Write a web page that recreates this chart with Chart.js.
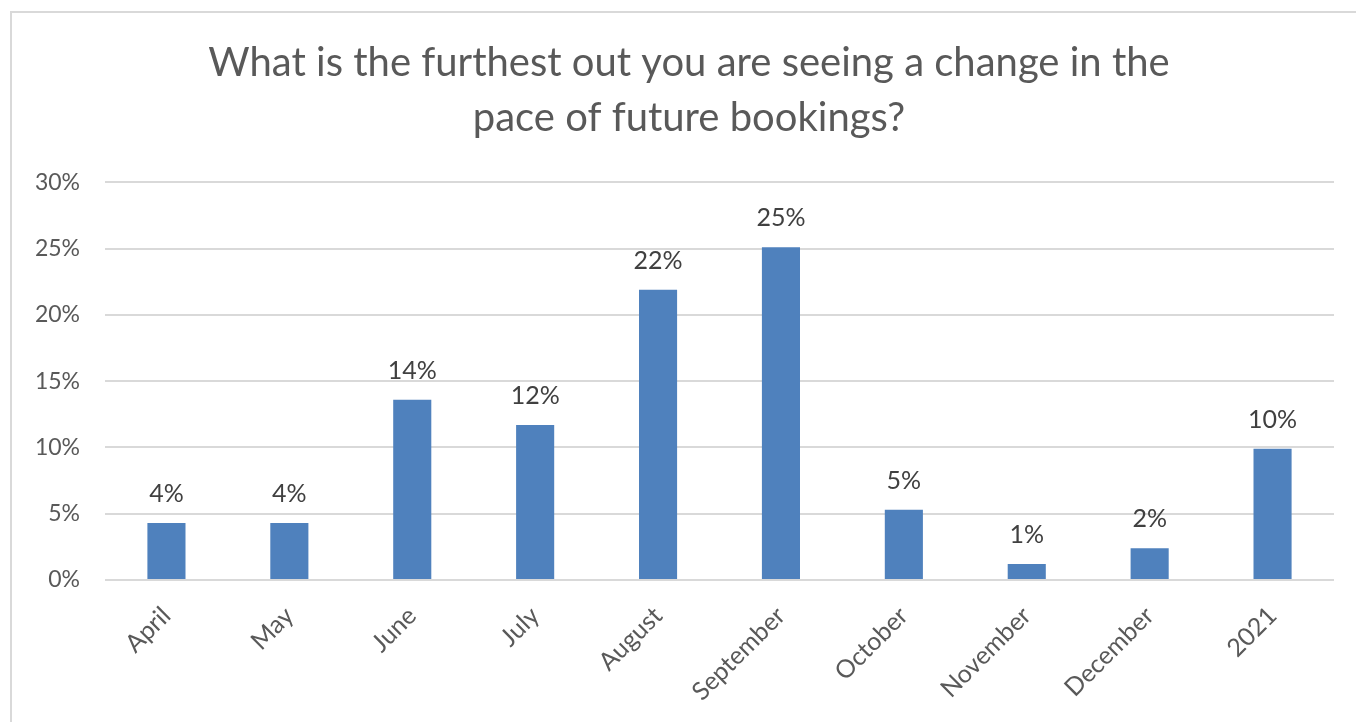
<!DOCTYPE html>
<html>
<head>
<meta charset="utf-8">
<script src="https://cdn.jsdelivr.net/npm/chart.js@4.4.0/dist/chart.umd.min.js"></script>
<style>
  html, body { margin: 0; padding: 0; background: #ffffff; overflow: hidden; }
  #wrap { position: relative; width: 1356px; height: 722px; }
  #frame { position: absolute; left: 10px; top: 11px; width: 1400px; height: 800px; border: 2px solid #d9d9d9; box-sizing: border-box; }
  canvas { position: absolute; left: 0; top: 0; }
</style>
</head>
<body>
<div id="wrap">
  <div id="frame"></div>
  <canvas id="c" width="1356" height="722"></canvas>
</div>
<script>
const titleLines = ['What is the furthest out you are seeing a change in the', 'pace of future bookings?'];
const categories = ['April', 'May', 'June', 'July', 'August', 'September', 'October', 'November', 'December', '2021'];
const values = [4.3, 4.3, 13.6, 11.7, 21.9, 25.1, 5.3, 1.2, 2.4, 9.9];
const yMin = 0;
const yMax = 30;
const yStep = 5;

const FONT = "Lato, 'Open Sans', sans-serif";

const dataLabelPlugin = {
  id: 'dataLabels',
  afterDatasetsDraw(chart) {
    const ctx = chart.ctx;
    const meta = chart.getDatasetMeta(0);
    ctx.save();
    ctx.font = '25px ' + FONT;
    ctx.fillStyle = '#404040';
    ctx.textAlign = 'center';
    ctx.textBaseline = 'alphabetic';
    meta.data.forEach((bar, i) => {
      ctx.fillText(Math.round(values[i]) + '%', bar.x, bar.y - 21);
    });
    ctx.restore();
  }
};

// let the y-axis label box extend to the canvas edge so labels are not clipped
const yBoxPlugin = {
  id: 'yBox',
  afterLayout(chart) {
    const y = chart.scales.y;
    y.left = 0;
    y.width = y.right;
  }
};

new Chart(document.getElementById('c'), {
  type: 'bar',
  data: {
    labels: categories,
    datasets: [{
      data: values,
      backgroundColor: '#4f81bd',
      borderWidth: 0,
      barPercentage: 0.31,
      categoryPercentage: 1.0
    }]
  },
  options: {
    responsive: false,
    animation: false,
    layout: { padding: { left: 44, right: 22, top: 0, bottom: 0 } },
    plugins: {
      legend: { display: false },
      tooltip: { enabled: false },
      title: {
        display: true,
        text: titleLines,
        color: '#595959',
        font: { family: FONT, size: 40, weight: 'normal', lineHeight: 1.38 },
        padding: { top: 35, bottom: 37 }
      }
    },
    scales: {
      x: {
        grid: { display: false },
        border: { display: false },
        ticks: {
          color: '#595959',
          font: { family: FONT, size: 25 },
          minRotation: 45,
          maxRotation: 45,
          autoSkip: false,
          padding: 13
        },
        afterFit(s) { s.height = 142; }
      },
      y: {
        min: yMin,
        max: yMax,
        grid: { color: '#d9d9d9', lineWidth: 2, drawTicks: false },
        border: { display: false },
        ticks: {
          stepSize: yStep,
          color: '#595959',
          font: { family: FONT, size: 23 },
          padding: 25,
          callback: v => v + '%'
        },
        afterFit(s) { s.width = 61; }
      }
    }
  },
  plugins: [dataLabelPlugin, yBoxPlugin]
});
</script>
</body>
</html>
